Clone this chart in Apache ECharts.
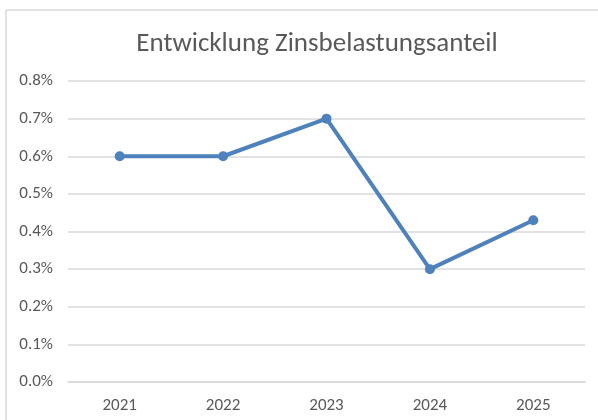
<!DOCTYPE html>
<html>
<head>
<meta charset="utf-8">
<script src="https://cdn.jsdelivr.net/npm/echarts@6/dist/echarts.min.js"></script>
<style>
  html, body { margin: 0; padding: 0; background: #fff; }
  #chart { width: 598px; height: 420px; }
</style>
</head>
<body>
<div id="chart"></div>
<script>
const years = ['2021', '2022', '2023', '2024', '2025']
const share = [0.6, 0.6, 0.7, 0.3, 0.43] // Prozent
const yTicks = [0, 0.1, 0.2, 0.3, 0.4, 0.5, 0.6, 0.7, 0.8]

const chart = echarts.init(document.getElementById('chart'))
const font = 'Calibri, Carlito, "Open Sans", sans-serif'

chart.setOption({
  animation: false,
  title: {
    text: 'Entwicklung Zinsbelastungsanteil',
    left: 312,
    top: 26,
    textAlign: 'center',
    textStyle: { color: '#595959', fontSize: 27, fontWeight: 'normal', fontFamily: font }
  },
  graphic: [
    { type: 'line', shape: { x1: 6, y1: 10, x2: 598, y2: 10 }, style: { stroke: '#d9d9d9', lineWidth: 1.5 } },
    { type: 'line', shape: { x1: 6, y1: 10, x2: 6, y2: 420 }, style: { stroke: '#d9d9d9', lineWidth: 1.5 } }
  ],
  grid: { left: 68, right: 13, top: 81, bottom: 38 },
  xAxis: {
    type: 'category',
    data: years,
    boundaryGap: true,
    axisLine: { lineStyle: { color: '#d9d9d9', width: 1.5 } },
    axisTick: { show: false },
    axisLabel: { color: '#595959', fontSize: 17, margin: 15, fontFamily: font }
  },
  yAxis: {
    type: 'value',
    min: yTicks[0],
    max: yTicks[yTicks.length - 1],
    interval: 0.1,
    axisLine: { show: false },
    axisTick: { show: false },
    splitLine: { lineStyle: { color: '#d9d9d9', width: 1.5 } },
    axisLabel: {
      color: '#595959', fontSize: 17, margin: 15, fontFamily: font,
      formatter: v => v.toFixed(1) + '%'
    }
  },
  series: [{
    type: 'line',
    data: share,
    symbol: 'circle',
    symbolSize: 10,
    lineStyle: { color: '#4f81bd', width: 4 },
    itemStyle: { color: '#4f81bd' }
  }]
})
</script>
</body>
</html>
